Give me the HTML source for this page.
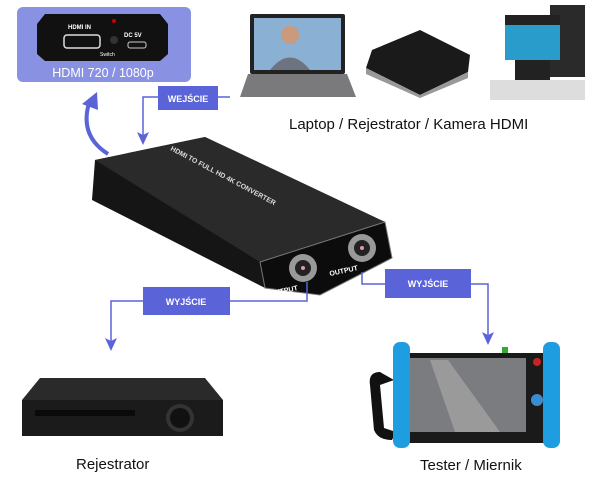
<!DOCTYPE html>
<html><head><meta charset="utf-8"><style>
html,body{margin:0;padding:0;background:#fff;}
svg{display:block;font-family:"Liberation Sans",sans-serif;}
</style></head><body>
<svg width="610" height="484" viewBox="0 0 610 484" xmlns="http://www.w3.org/2000/svg">
<!-- top-left panel -->
<rect x="17" y="7" width="174" height="75" rx="6" fill="#8891e2"/>
<path d="M45,14 L160,14 L168,24 L168,54 L160,61 L45,61 L37,54 L37,24 Z" fill="#111"/>
<text x="68" y="29" font-size="6" fill="#fff" font-weight="bold">HDMI IN</text>
<rect x="64" y="35" width="36" height="13" rx="3" fill="none" stroke="#ddd" stroke-width="1.5"/>
<circle cx="114" cy="40" r="4" fill="#333"/><circle cx="114" cy="21" r="2" fill="#c00"/>
<text x="124" y="37" font-size="6" fill="#fff" font-weight="bold">DC 5V</text>
<rect x="128" y="42" width="18" height="6" rx="2" fill="none" stroke="#ccc"/>
<text x="100" y="56" font-size="5" fill="#fff">Switch</text>
<text x="103" y="77" font-size="12.5" fill="#fff" text-anchor="middle">HDMI 720 / 1080p</text>
<!-- curved arrow -->
<path d="M108,154 Q78,135 90,100" fill="none" stroke="#5a63d8" stroke-width="4"/>
<path d="M82,104 L97,92 L98,110 Z" fill="#5a63d8"/>
<!-- wejscie -->
<polyline points="230,97 143,97 143,136" fill="none" stroke="#5a63d8" stroke-width="1.5"/>
<path d="M137,132 L143,145 L149,132 L143,135 Z" fill="#5a63d8"/>
<rect x="158" y="86" width="60" height="24" fill="#5a63d8"/>
<text x="188" y="102" font-size="9" font-weight="bold" fill="#fff" text-anchor="middle">WEJŚCIE</text>
<!-- laptop -->
<rect x="250" y="14" width="95" height="60" rx="2" fill="#222"/>
<rect x="254" y="18" width="87" height="52" fill="#8ab0d4"/>
<circle cx="290" cy="35" r="9" fill="#c99a7c"/><path d="M270,70 Q290,45 310,70 Z" fill="#6d7480"/>
<path d="M248,74 L347,74 L356,97 L240,97 Z" fill="#7a7a7c"/>
<!-- router -->
<path d="M372,50 L420,30 L470,55 L468,72 L420,95 L366,68 Z" fill="#1a1a1a"/>
<path d="M366,68 L420,95 L468,72 L468,78 L420,98 L366,74 Z" fill="#999"/>
<!-- camera -->
<rect x="550" y="5" width="35" height="72" fill="#2a2a2a"/>
<rect x="505" y="20" width="55" height="40" fill="#2a9ccc"/>
<rect x="505" y="15" width="55" height="10" fill="#222"/>
<rect x="515" y="60" width="35" height="25" fill="#222"/>
<rect x="490" y="80" width="95" height="20" fill="#ddd"/>
<text x="289" y="129" font-size="15" fill="#111">Laptop / Rejestrator / Kamera HDMI</text>
<!-- converter -->
<path d="M95,160 L205,137 L385,222 L392,258 L320,295 L265,288 L92,200 Z" fill="#151515"/>
<path d="M95,160 L205,137 L385,222 L260,262 Z" fill="#2a2a2a"/>
<path d="M260,262 L385,222 L392,258 L320,295 L265,288 Z" fill="#0c0c0c" stroke="#777" stroke-width="1"/>
<circle cx="303" cy="268" r="14" fill="#999"/><circle cx="303" cy="268" r="8" fill="#222"/><circle cx="303" cy="268" r="2" fill="#d9a"/>
<circle cx="362" cy="248" r="14" fill="#999"/><circle cx="362" cy="248" r="8" fill="#222"/><circle cx="362" cy="248" r="2" fill="#d9a"/>
<text x="270" y="296" font-size="7" fill="#fff" font-weight="bold" transform="rotate(-12 270 296)">OUTPUT</text>
<text x="330" y="276" font-size="7" fill="#fff" font-weight="bold" transform="rotate(-12 330 276)">OUTPUT</text>
<text x="170" y="150" font-size="7" fill="#ddd" font-weight="bold" transform="rotate(28 170 150)">HDMI TO FULL HD 4K CONVERTER</text>
<!-- wyjscie left -->
<polyline points="307,282 307,301 230,301" fill="none" stroke="#5a63d8" stroke-width="1.5"/>
<polyline points="143,301 111,301 111,342" fill="none" stroke="#5a63d8" stroke-width="1.5"/>
<path d="M105,338 L111,351 L117,338 L111,341 Z" fill="#5a63d8"/>
<rect x="143" y="287" width="87" height="28" fill="#5a63d8"/>
<text x="186" y="305" font-size="9" font-weight="bold" fill="#fff" text-anchor="middle">WYJŚCIE</text>
<!-- wyjscie right -->
<polyline points="362,272 362,284 385,284" fill="none" stroke="#5a63d8" stroke-width="1.5"/>
<polyline points="471,284 488,284 488,336" fill="none" stroke="#5a63d8" stroke-width="1.5"/>
<path d="M482,332 L488,345 L494,332 L488,335 Z" fill="#5a63d8"/>
<rect x="385" y="269" width="86" height="29" fill="#5a63d8"/>
<text x="428" y="287" font-size="9" font-weight="bold" fill="#fff" text-anchor="middle">WYJŚCIE</text>
<!-- DVR -->
<path d="M40,378 L205,378 L223,400 L22,400 Z" fill="#2a2a2a"/>
<rect x="22" y="400" width="201" height="36" fill="#1b1b1b"/>
<rect x="35" y="410" width="100" height="6" fill="#0a0a0a"/>
<circle cx="180" cy="418" r="14" fill="#333"/><circle cx="180" cy="418" r="10" fill="#111"/>
<text x="76" y="469" font-size="15" fill="#111">Rejestrator</text>
<!-- tester -->
<path d="M380,372 Q368,372 370,385 L374,430 Q378,440 392,440 L396,432 L384,428 L380,385 L394,380 Z" fill="#111"/>
<rect x="405" y="353" width="142" height="90" rx="3" fill="#1a1a1a"/>
<rect x="410" y="358" width="116" height="74" fill="#7a7c80"/>
<path d="M430,360 L455,432 L500,432 L448,360 Z" fill="#9a9a9a"/>
<rect x="393" y="342" width="17" height="106" rx="7" fill="#1e9ee0"/>
<rect x="543" y="342" width="17" height="106" rx="7" fill="#1e9ee0"/>
<circle cx="537" cy="362" r="4" fill="#c22"/>
<circle cx="537" cy="400" r="6" fill="#3a8cd0"/>
<rect x="502" y="347" width="6" height="6" fill="#3a3"/>
<text x="420" y="470" font-size="15" fill="#111">Tester / Miernik</text>
</svg>
</body></html>
